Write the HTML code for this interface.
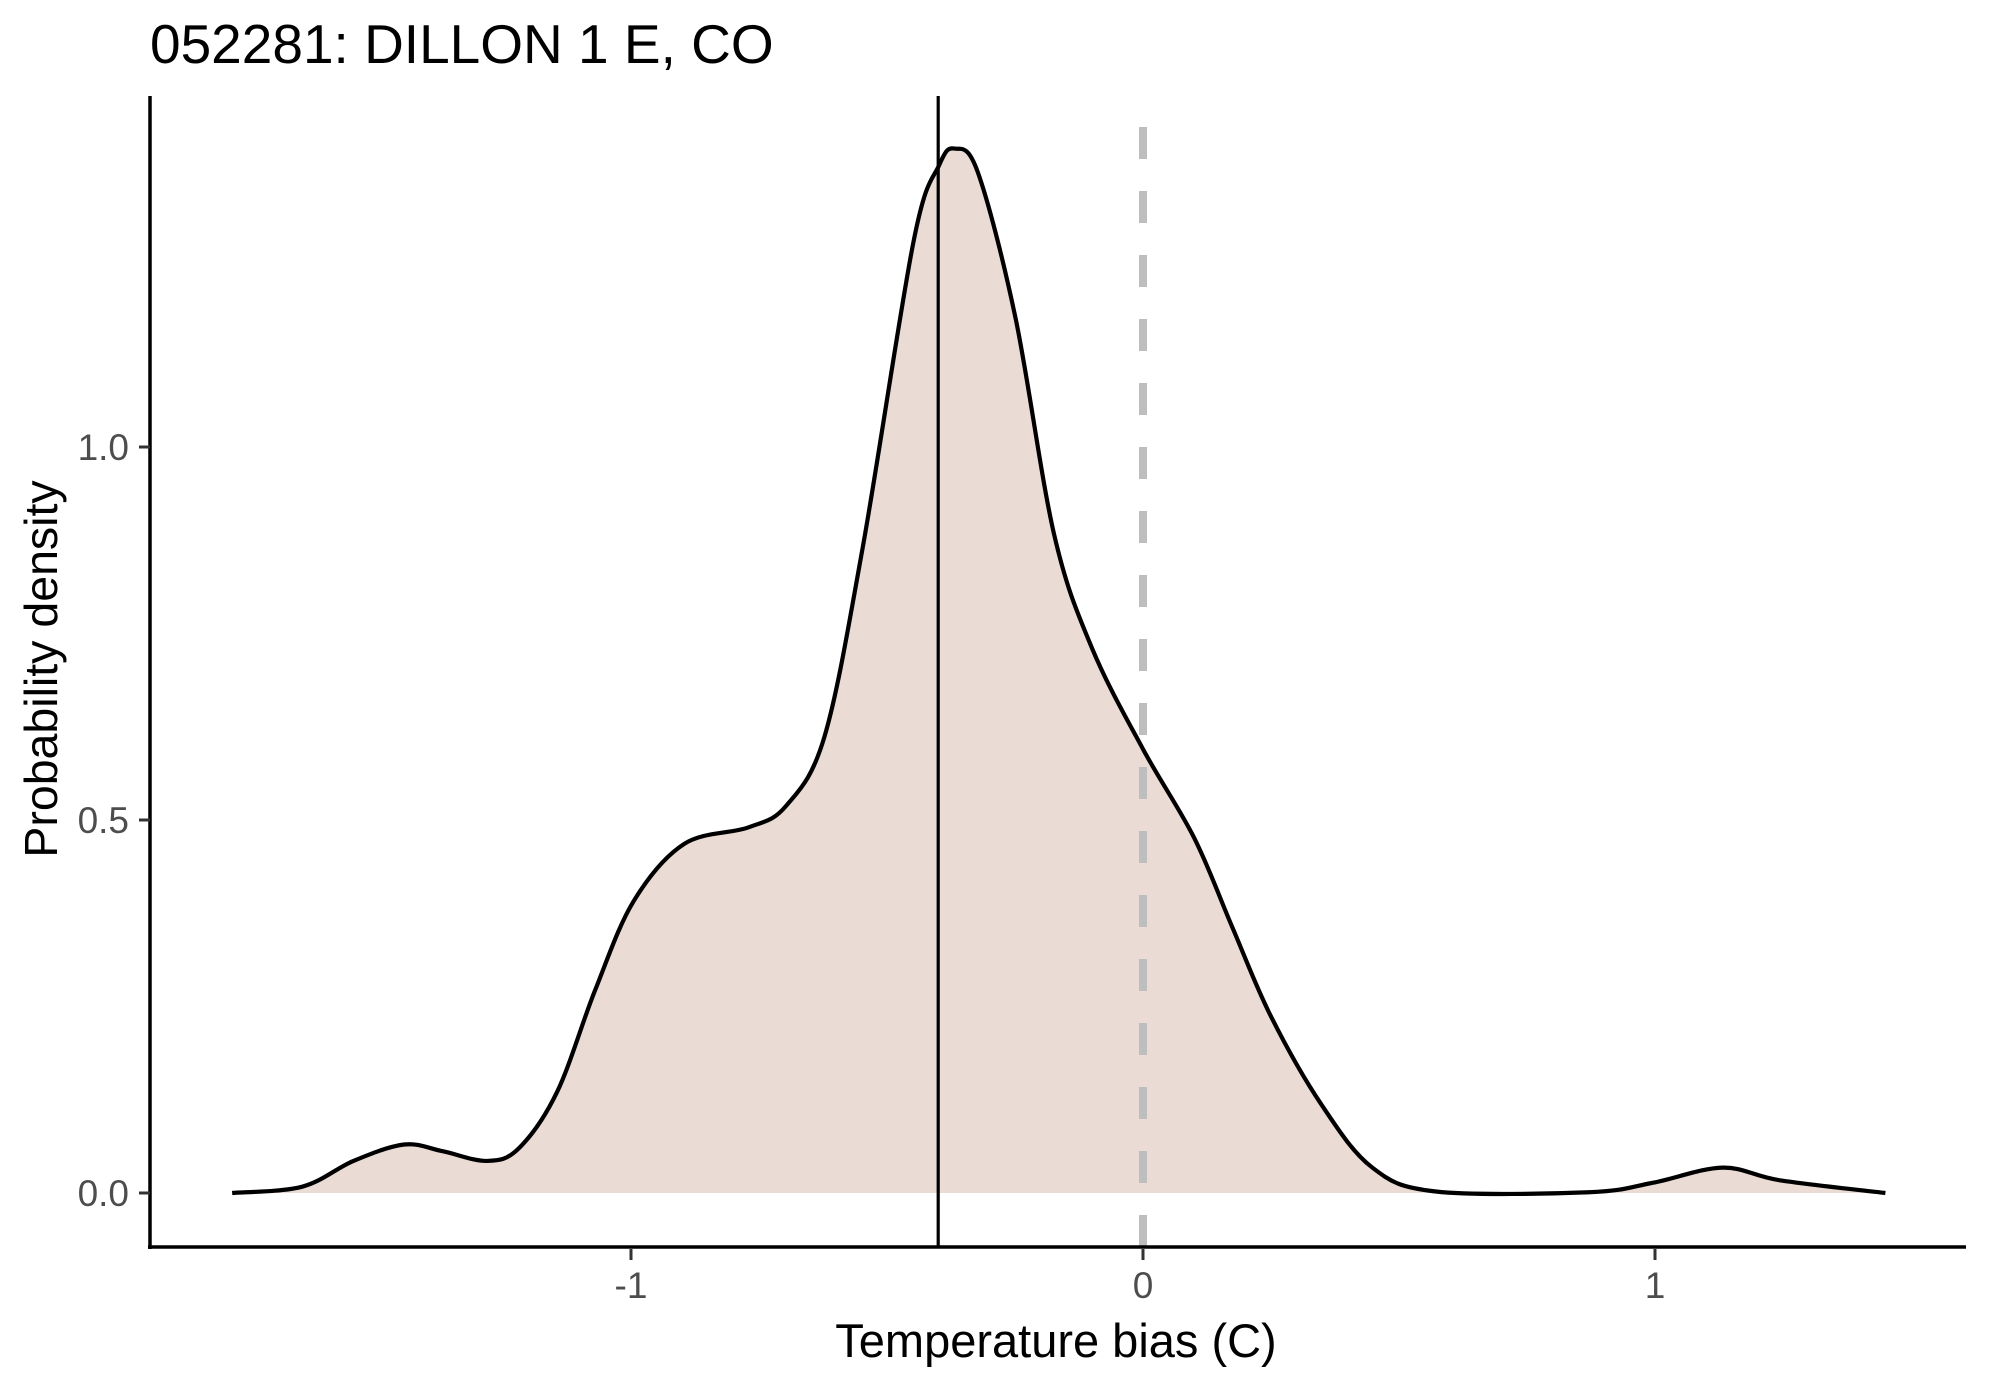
<!DOCTYPE html>
<html>
<head>
<meta charset="utf-8">
<style>
html,body{margin:0;padding:0;background:#fff;}
svg{display:block;}
text{font-family:"Liberation Sans",sans-serif;}
</style>
</head>
<body>
<svg id="chart" width="1990" height="1384" viewBox="0 0 1990 1384" xmlns="http://www.w3.org/2000/svg">
  <text x="150" y="63" font-size="55" fill="#000">052281: DILLON 1 E, CO</text>
  <g id="plot"></g>
  <text x="1056" y="1357" font-size="47" fill="#000" text-anchor="middle">Temperature bias (C)</text>
  <text transform="translate(57,669) rotate(-90)" font-size="46.5" fill="#000" text-anchor="middle">Probability density</text>
</svg>
<script>
const densityX = [-1.779,-1.642,-1.542,-1.443,-1.368,-1.281,-1.219,-1.144,-1.070,-0.995,-0.896,-0.771,-0.697,-0.622,-0.547,-0.448,-0.398,-0.368,-0.323,-0.249,-0.174,-0.100,0,0.100,0.174,0.249,0.348,0.448,0.572,0.871,0.995,1.132,1.244,1.450];
const densityY = [0,0.0085,0.043,0.065,0.056,0.043,0.06,0.136,0.272,0.391,0.468,0.49,0.519,0.612,0.867,1.276,1.378,1.40,1.369,1.173,0.884,0.731,0.595,0.476,0.357,0.238,0.119,0.034,0.002,0.001,0.0136,0.034,0.017,0];
const xTicks = [-1,0,1];
const xTickLabels = ["-1","0","1"];
const yTicks = [0,0.5,1.0];
const yTickLabels = ["0.0","0.5","1.0"];
const meanBias = -0.40;
const refBias = 0;

const NS = "http://www.w3.org/2000/svg";
const plot = document.getElementById('plot');
function sx(v){return 1143 + 512*v;}
function sy(v){return 1193 - 746*v;}
function mk(tag, attrs){const e=document.createElementNS(NS,tag);for(const k in attrs)e.setAttribute(k,attrs[k]);return e;}

const pts = densityX.map((x,i)=>[sx(x),sy(densityY[i])]);
let d = `M${pts[0][0]},${pts[0][1]}`;
for(let i=0;i<pts.length-1;i++){
  const p0=pts[Math.max(0,i-1)],p1=pts[i],p2=pts[i+1],p3=pts[Math.min(pts.length-1,i+2)];
  const c1=[p1[0]+(p2[0]-p0[0])/6,p1[1]+(p2[1]-p0[1])/6];
  const c2=[p2[0]-(p3[0]-p1[0])/6,p2[1]-(p3[1]-p1[1])/6];
  d+=` C${c1[0]},${c1[1]} ${c2[0]},${c2[1]} ${p2[0]},${p2[1]}`;
}
const base = sy(0);
const fill = mk('path',{d:d+` L${pts[pts.length-1][0]},${base} L${pts[0][0]},${base} Z`,fill:'#ebdbd5',stroke:'none'});


plot.appendChild(fill);

const dash = mk('line',{x1:sx(refBias),x2:sx(refBias),y1:127,y2:1247,stroke:'#bebebe','stroke-width':8,'stroke-dasharray':'32 32'});


plot.appendChild(dash);

const line = mk('path',{d:d,fill:'none',stroke:'#000','stroke-width':4.2,'stroke-linejoin':'round'});


plot.appendChild(line);

const mean = mk('line',{x1:sx(meanBias),x2:sx(meanBias),y1:96,y2:1247,stroke:'#000','stroke-width':3.2});


plot.appendChild(mean);

const yAxis = mk('line',{x1:150,x2:150,y1:96,y2:1249,stroke:'#000','stroke-width':3.5});


plot.appendChild(yAxis);
const xAxis = mk('line',{x1:148,x2:1966,y1:1247,y2:1247,stroke:'#000','stroke-width':3.5});


plot.appendChild(xAxis);

xTicks.forEach((v,i)=>{
  const t = mk('line',{x1:sx(v),x2:sx(v),y1:1249,y2:1260,stroke:'#333','stroke-width':3});
  
  
  plot.appendChild(t);
  const l = mk('text',{x:sx(v),y:1298,'font-size':37,fill:'#4d4d4d','text-anchor':'middle'});
  l.textContent = xTickLabels[i];
  
  
  plot.appendChild(l);
});
yTicks.forEach((v,i)=>{
  const t = mk('line',{x1:139,x2:150,y1:sy(v),y2:sy(v),stroke:'#333','stroke-width':3});
  
  
  plot.appendChild(t);
  const l = mk('text',{x:129,y:sy(v)+13,'font-size':37,fill:'#4d4d4d','text-anchor':'end'});
  l.textContent = yTickLabels[i];
  
  
  plot.appendChild(l);
});
</script>
</body>
</html>
